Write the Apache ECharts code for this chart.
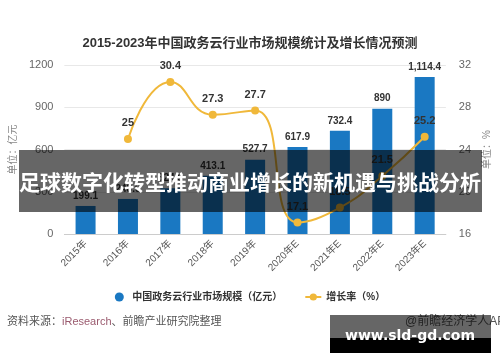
<!DOCTYPE html>
<html><head><meta charset="utf-8">
<script src="https://cdn.jsdelivr.net/npm/echarts@6/dist/echarts.min.js"></script>
<style>html,body{margin:0;padding:0;background:#fff}#c{width:500px;height:362px}</style>
</head><body><div id="c"></div>
<script>
const categories = ['2015年','2016年','2017年','2018年','2019年','2020年E','2021年E','2022年E','2023年E'];
const marketSize = [199.1, 248.9, 324.5, 413.1, 527.7, 617.9, 732.4, 890, 1114.4];
const growthRate = [null, 25, 30.4, 27.3, 27.7, 17.1, 18.5, 21.5, 25.2];
const leftAxis = {min: 0, max: 1200, interval: 300};
const rightAxis = {min: 16, max: 32, interval: 4};
const seriesNames = ['中国政务云行业市场规模（亿元）', '增长率（%）'];

const FONT = "Liberation Sans, Noto Sans CJK SC, sans-serif";
const chart = echarts.init(document.getElementById('c'), null, {renderer: 'canvas'});
chart.setOption({
  animation: false,
  backgroundColor: '#fff',
  textStyle: {fontFamily: FONT},
  title: {
    text: '2015-2023年中国政务云行业市场规模统计及增长情况预测',
    left: 'center', top: 32,
    textStyle: {fontSize: 13, fontWeight: 'bold', color: '#333', fontFamily: FONT}
  },
  grid: {left: 62, right: 50, top: 65, bottom: 128},
  legend: {
    top: 287, left: 'center', itemGap: 22, itemWidth: 16, itemHeight: 9,
    textStyle: {fontSize: 10, color: '#333', fontWeight: 'bold', fontFamily: FONT},
    data: [{name: seriesNames[0], icon: 'circle'}, {name: seriesNames[1]}]
  },
  xAxis: {
    type: 'category', data: categories,
    axisLine: {lineStyle: {color: '#ccc'}},
    axisTick: {alignWithLabel: true, lineStyle: {color: '#bbb'}},
    axisLabel: {rotate: 45, fontSize: 10, color: '#555', margin: 8}
  },
  yAxis: [
    {type: 'value', min: leftAxis.min, max: leftAxis.max, interval: leftAxis.interval,
     name: '单位：亿元', nameLocation: 'middle', nameGap: 42,
     nameTextStyle: {fontSize: 10, color: '#888'},
     axisLine: {show: false}, axisTick: {show: false},
     axisLabel: {fontSize: 11, color: '#666', margin: 11, formatter: v => String(v)},
     splitLine: {lineStyle: {color: '#e8e8e8'}}},
    {type: 'value', min: rightAxis.min, max: rightAxis.max, interval: rightAxis.interval,
     name: '单位：%', nameLocation: 'middle', nameGap: 34,
     nameTextStyle: {fontSize: 10, color: '#888'},
     axisLine: {show: false}, axisTick: {show: false},
     axisLabel: {fontSize: 11, color: '#666', margin: 13},
     splitLine: {show: false}}
  ],
  series: [
    {name: seriesNames[0], type: 'bar', data: marketSize, barWidth: 20,
     itemStyle: {color: '#1a78c2'},
     label: {show: true, position: 'top', fontSize: 10, fontWeight: 'bold', color: '#333',
             formatter: p => p.value.toLocaleString('en-US')}},
    {name: seriesNames[1], type: 'line', yAxisIndex: 1, data: growthRate, smooth: true,
     symbol: 'circle', symbolSize: 8,
     itemStyle: {color: '#f0b83a'}, lineStyle: {color: '#f0b83a', width: 2},
     label: {show: true, position: 'top', fontSize: 11, fontWeight: 'bold', color: '#333', distance: 6}}
  ],
  graphic: [
    {type: 'text', left: 7, top: 316, z: 50,
     style: {text: '资料来源：{r|iResearch}、前瞻产业研究院整理', fontSize: 11, fill: '#555', fontFamily: FONT,
       rich: {r: {fontSize: 11, fill: '#9a5a6e', fontFamily: FONT}}}},
    {type: 'text', left: 405, top: 316, z: 50,
     style: {text: '@前瞻经济学人APP', fontSize: 12, fill: '#555', fontFamily: FONT}},
    {type: 'rect', z: 100, shape: {x: 19, y: 150, width: 463, height: 62},
     style: {fill: 'rgba(0,0,0,0.6)'}},
    {type: 'text', z: 101, x: 250, y: 182,
     style: {text: '足球数字化转型推动商业增长的新机遇与挑战分析', fontSize: 21, fontWeight: 'bold',
       fill: '#fff', align: 'center', verticalAlign: 'middle', fontFamily: 'Noto Sans CJK SC'}},
    {type: 'rect', z: 100, shape: {x: 330, y: 315, width: 161, height: 23},
     style: {fill: 'rgba(0,0,0,0.6)'}},
    {type: 'rect', z: 100, shape: {x: 330, y: 338, width: 161, height: 15},
     style: {fill: '#000'}},
    {type: 'text', z: 101, x: 410, y: 336,
     style: {text: 'www.sld-gd.com', fontSize: 14, fontWeight: 'bold', fill: '#fff',
       align: 'center', verticalAlign: 'middle', fontFamily: 'DejaVu Sans'}}
  ]
});
</script></body></html>
